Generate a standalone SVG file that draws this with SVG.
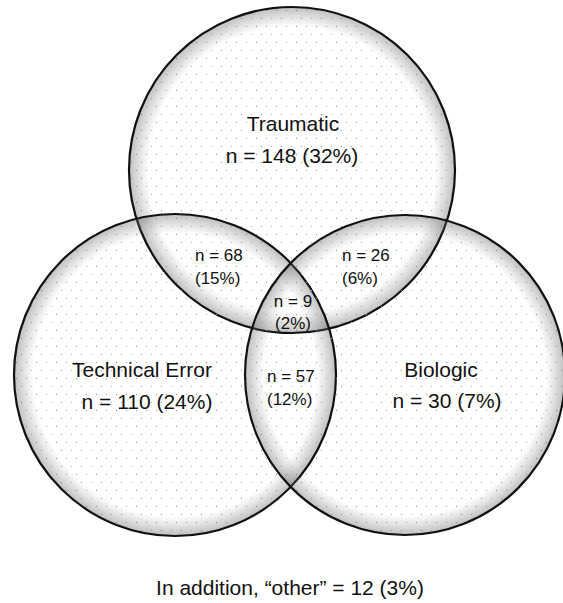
<svg xmlns="http://www.w3.org/2000/svg" width="563" height="603" viewBox="0 0 563 603">
  <style>
    .ring { fill: none; stroke: #111; stroke-width: 2.2; }
    .dots { fill: url(#dotPat); }
    .edge { fill: url(#edgeGrad); }
    .big { font-family: "Liberation Sans", Arial, sans-serif; font-size: 21px; fill: #111; }
    .small { font-family: "Liberation Sans", Arial, sans-serif; font-size: 17px; fill: #111; }
  </style>
  <defs>
    <pattern id="dotPat" x="0" y="0" width="20" height="16" patternUnits="userSpaceOnUse">
      <rect x="1" y="2" width="1" height="1" fill="#8a8a8a"/>
      <rect x="11" y="2" width="1" height="1" fill="#b0b0b0"/>
      <rect x="6" y="10" width="1" height="1" fill="#9a9a9a"/>
      <rect x="16" y="10" width="1" height="1" fill="#8a8a8a"/>
    </pattern>
    <radialGradient id="edgeGrad" cx="0.5" cy="0.5" r="0.5">
      <stop offset="0" stop-color="#777" stop-opacity="0"/>
      <stop offset="0.88" stop-color="#777" stop-opacity="0"/>
      <stop offset="1" stop-color="#666" stop-opacity="0.42"/>
    </radialGradient>
  </defs>
  <rect x="0" y="0" width="563" height="603" fill="#fff"/>

  <g id="traumatic">
    <circle class="dots" cx="292" cy="170" r="163"/>
    <circle class="edge" cx="292" cy="170" r="163"/>
    <circle class="ring" cx="292" cy="170" r="163"/>
  </g>
  <g id="technical-error">
    <circle class="dots" cx="175" cy="375" r="161"/>
    <circle class="edge" cx="175" cy="375" r="161"/>
    <circle class="ring" cx="175" cy="375" r="161"/>
  </g>
  <g id="biologic">
    <circle class="dots" cx="405" cy="375" r="160"/>
    <circle class="edge" cx="405" cy="375" r="160"/>
    <circle class="ring" cx="405" cy="375" r="160"/>
  </g>
  <g id="connectors"></g>

  <g id="label-traumatic" class="big" text-anchor="middle">
    <text x="293" y="131">Traumatic</text>
    <text x="292" y="163">n = 148 (32%)</text>
  </g>
  <g id="label-technical" class="big" text-anchor="middle">
    <text x="142" y="377">Technical Error</text>
    <text x="147" y="409">n = 110 (24%)</text>
  </g>
  <g id="label-biologic" class="big" text-anchor="middle">
    <text x="441" y="377">Biologic</text>
    <text x="447" y="408">n = 30 (7%)</text>
  </g>
  <g id="label-trauma-tech" class="small">
    <text x="195" y="261">n = 68</text>
    <text x="195" y="284">(15%)</text>
  </g>
  <g id="label-trauma-bio" class="small">
    <text x="342" y="261">n = 26</text>
    <text x="342" y="284">(6%)</text>
  </g>
  <g id="label-all" class="small" text-anchor="middle">
    <text x="293" y="307">n = 9</text>
    <text x="293" y="329">(2%)</text>
  </g>
  <g id="label-tech-bio" class="small">
    <text x="267" y="382">n = 57</text>
    <text x="267" y="405">(12%)</text>
  </g>
  <g id="note" class="big" text-anchor="middle">
    <text x="290" y="595">In addition, “other” = 12 (3%)</text>
  </g>
</svg>
